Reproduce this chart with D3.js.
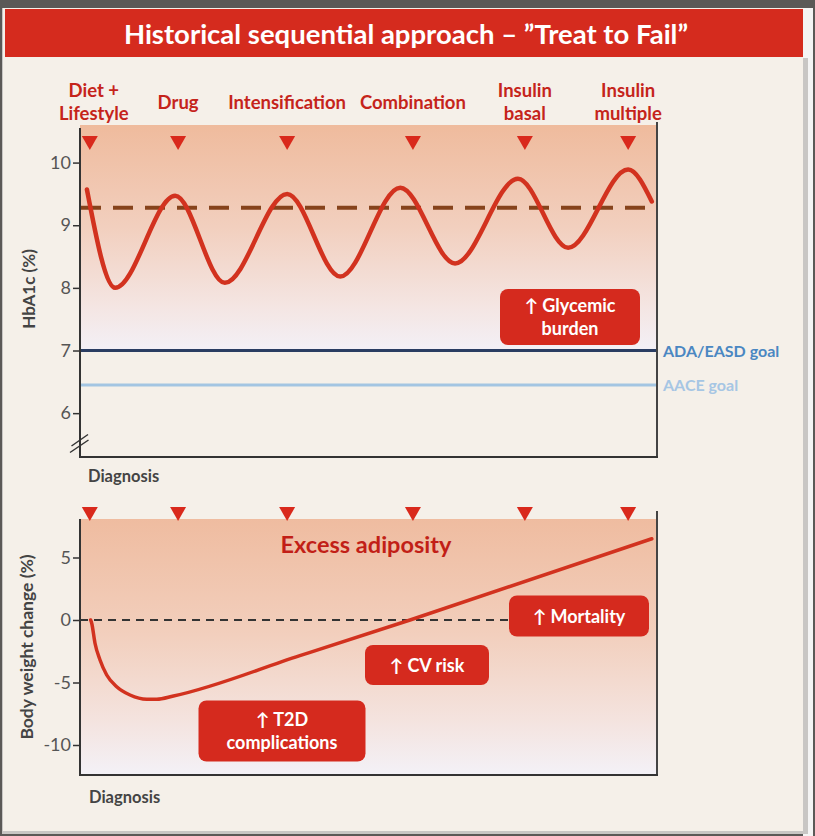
<!DOCTYPE html>
<html><head><meta charset="utf-8">
<script src="https://cdn.jsdelivr.net/npm/d3@7"></script>
<style>html,body{margin:0;padding:0;background:#5b5957;}svg{display:block;}</style>
</head><body>
<svg id="c" width="815" height="836"></svg>
<script>
// ---------- data ----------
const title = "Historical sequential approach – ”Treat to Fail”";
const stages = [["Diet +", "Lifestyle"], ["Drug"], ["Intensification"], ["Combination"], ["Insulin", "basal"], ["Insulin", "multiple"]];
const stageX = [1.7, 17.0, 35.9, 57.7, 77.1, 95.0];

const hba1cX = [1.2, 6.1, 16.5, 25.1, 35.9, 45.1, 55.5, 65.0, 75.9, 84.6, 95.0, 99.1];
const hba1cY = [9.57, 8.00, 9.47, 8.08, 9.50, 8.18, 9.60, 8.39, 9.74, 8.64, 9.89, 9.38];
const hba1cAverage = 9.28;
const hba1cTicks = [6, 7, 8, 9, 10];
const goalNames = ["ADA/EASD goal", "AACE goal"];
const goalValues = [7, 6.45];

const weightX = [1.85, 2.03, 2.6, 3.47, 4.63, 6.36, 8.67, 11.56, 13.3, 16.2, 38.1, 57.2, 99.1];
const weightY = [0, -0.26, -1.86, -3.2, -4.4, -5.34, -6.0, -6.34, -6.34, -6.08, -2.85, 0.0, 6.5];
const weightTicks = [-10, -5, 0, 5];

// ---------- setup ----------
const svg = d3.select("#c");
const FONT = "Lato, 'Open Sans', sans-serif";
const RED = "#d52b1e";
const DARKRED = "#c5241b";

// frame / page
svg.append("rect").attr("x",0).attr("y",0).attr("width",815).attr("height",836).attr("fill","#5b5957");
svg.append("rect").attr("x",803).attr("y",8).attr("width",10).attr("height",828).attr("fill","#f4f4f4");
svg.append("rect").attr("x",803).attr("y",58).attr("width",5).attr("height",776).attr("fill","#c8c6c4");
svg.append("rect").attr("x",2).attr("y",8).attr("width",801).attr("height",826).attr("fill","#c8c6c4");
svg.append("rect").attr("x",3).attr("y",8).attr("width",800).attr("height",823).attr("fill","#f5f0e9");

// title bar
svg.append("rect").attr("x",5).attr("y",9).attr("width",798).attr("height",48).attr("fill",RED);
svg.append("text").attr("x",406).attr("y",44).attr("text-anchor","middle")
  .attr("font-family",FONT).attr("font-weight","bold").attr("font-size",27.5).attr("fill","#fff")
  .text(title);

const x = d3.scaleLinear().domain([0,100]).range([80,657]);
const yTop = d3.scaleLinear().domain([5.3,10.6]).range([457,125]);
const yBot = d3.scaleLinear().domain([-12.4,8.08]).range([775,519]);

const defs = svg.append("defs");
function grad(id, stops){
  const g = defs.append("linearGradient").attr("id",id).attr("x1",0).attr("y1",0).attr("x2",0).attr("y2",1);
  stops.forEach(s=>g.append("stop").attr("offset",s[0]).attr("stop-color",s[1]));
}
grad("gTop", [[0,"#efbb9d"],[0.45,"#f2cfbe"],[0.8,"#f4e5e2"],[1,"#f3f0f6"]]);
grad("gBot", [[0,"#efbca0"],[0.45,"#f2cfbd"],[0.8,"#f4e4e0"],[1,"#f3f1f7"]]);

// ---------- top chart ----------
const gTop = svg.append("g");
gTop.append("rect").attr("x",x(0)).attr("y",yTop(10.6)).attr("width",x(100)-x(0)).attr("height",yTop(7)-yTop(10.6)).attr("fill","url(#gTop)");

// stage labels
stages.forEach((lines,i)=>{
  const t = gTop.append("text").attr("text-anchor","middle").attr("font-family",FONT).attr("font-weight","bold")
    .attr("font-size",18.5).attr("fill",DARKRED);
  const baseY = lines.length===2 ? 97 : 109;
  lines.forEach((ln,j)=>t.append("tspan").attr("x",x(stageX[i]) + (i===0?4:0)).attr("y",baseY+j*23).text(ln));
});

function triangles(g, yTopPx){
  g.selectAll(null).data(stageX).enter().append("path")
    .attr("d", d=>`M${x(d)-8},${yTopPx} L${x(d)+8},${yTopPx} L${x(d)},${yTopPx+14} Z`)
    .attr("fill","#d9291c");
}
triangles(gTop, 136);

// goal lines
const goalColors = ["#2a3d62","#a3c5e2"];
const goalTextColors = ["#4a87c2","#a6c6e4"];
goalValues.forEach((v,i)=>{
  gTop.append("line").attr("x1",x(0)).attr("x2",x(100)).attr("y1",yTop(v)).attr("y2",yTop(v))
    .attr("stroke",goalColors[i]).attr("stroke-width",3);
  gTop.append("text").attr("x",x(100)+6).attr("y",yTop(v)+6).attr("font-family",FONT).attr("font-weight","bold")
    .attr("font-size",16).attr("fill",goalTextColors[i]).text(goalNames[i]);
});

// average dashed
gTop.append("line").attr("x1",x(0)+1).attr("x2",x(100)-3).attr("y1",yTop(hba1cAverage)).attr("y2",yTop(hba1cAverage))
  .attr("stroke","#86431c").attr("stroke-width",4).attr("stroke-dasharray","20,12");

// HbA1c curve
const hLine = d3.line().x(d=>x(d[0])).y(d=>yTop(d[1])).curve(d3.curveMonotoneX);
gTop.append("path").datum(hba1cX.map((d,i)=>[d,hba1cY[i]])).attr("d",hLine)
  .attr("fill","none").attr("stroke","#d2321f").attr("stroke-width",4.5).attr("stroke-linecap","round");

// box
function box(g, cx, cy, w, h, lines){
  g.append("rect").attr("x",cx-w/2).attr("y",cy-h/2).attr("width",w).attr("height",h).attr("rx",8)
    .attr("fill","#d52a1e");
  const t = g.append("text").attr("text-anchor","middle").attr("font-family",FONT).attr("font-weight","bold")
    .attr("font-size",18).attr("fill","#fff");
  const n = lines.length;
  lines.forEach((ln,j)=>t.append("tspan").attr("x",cx).attr("y",cy+6.5+(j-(n-1)/2)*23).text(ln));
}
box(gTop, 570, 317, 140, 56, ["↑ Glycemic", "burden"]);

// axes
function styleAxis(g){
  g.select(".domain").remove();
  g.selectAll(".tick line").attr("stroke","#333").attr("stroke-width",1.5);
  g.selectAll(".tick text").attr("font-family",FONT).attr("font-size",18).attr("fill","#555");
}
const axT = gTop.append("g").attr("transform",`translate(${x(0)},0)`)
  .call(d3.axisLeft(yTop).tickValues(hba1cTicks).tickSize(7).tickPadding(2).tickFormat(d=>String(d)));
styleAxis(axT);
gTop.append("line").attr("x1",x(0)).attr("x2",x(0)).attr("y1",128).attr("y2",yTop(5.3)).attr("stroke","#333").attr("stroke-width",2);
gTop.append("line").attr("x1",x(100)).attr("x2",x(100)).attr("y1",122).attr("y2",yTop(5.3)).attr("stroke","#444").attr("stroke-width",2);
gTop.append("line").attr("x1",x(0)-1).attr("x2",x(100)+1).attr("y1",yTop(5.3)).attr("y2",yTop(5.3)).attr("stroke","#333").attr("stroke-width",2);
// axis break marks
gTop.append("path").attr("d","M71.5,446 L88,434.5 M70,452.5 L88.5,440").attr("stroke","#333").attr("stroke-width",1.5).attr("fill","none");

gTop.append("text").attr("transform",`translate(34.5,${289}) rotate(-90)`).attr("text-anchor","middle")
  .attr("font-family",FONT).attr("font-weight","bold").attr("font-size",17).attr("fill","#444").text("HbA1c (%)");
gTop.append("text").attr("x",88).attr("y",482).attr("font-family",FONT).attr("font-weight","bold")
  .attr("font-size",16.5).attr("fill","#444").text("Diagnosis");

// ---------- bottom chart ----------
const gBot = svg.append("g");
gBot.append("rect").attr("x",x(0)).attr("y",yBot(8.08)).attr("width",x(100)-x(0)).attr("height",yBot(-12.4)-yBot(8.08)).attr("fill","url(#gBot)");
triangles(gBot, 507);

gBot.append("text").attr("x",366).attr("y",553).attr("text-anchor","middle").attr("font-family",FONT)
  .attr("font-weight","bold").attr("font-size",23.5).attr("fill","#c21f17").text("Excess adiposity");

gBot.append("line").attr("x1",x(0)).attr("x2",x(99.2)).attr("y1",yBot(0)).attr("y2",yBot(0))
  .attr("stroke","#333").attr("stroke-width",2).attr("stroke-dasharray","8,6");

box(gBot, 579, 616, 140, 41, ["↑ Mortality"]);
box(gBot, 427, 665, 124, 40, ["↑ CV risk"]);
box(gBot, 282, 731, 167, 61, ["↑ T2D", "complications"]);

const wLine = d3.line().x(d=>x(d[0])).y(d=>yBot(d[1])).curve(d3.curveMonotoneX);
gBot.append("path").datum(weightX.map((d,i)=>[d,weightY[i]])).attr("d",wLine)
  .attr("fill","none").attr("stroke","#d2321f").attr("stroke-width",3.5).attr("stroke-linecap","round");

const axB = gBot.append("g").attr("transform",`translate(${x(0)},0)`)
  .call(d3.axisLeft(yBot).tickValues(weightTicks).tickSize(7).tickPadding(2).tickFormat(d=>String(d)));
styleAxis(axB);
gBot.append("line").attr("x1",x(0)).attr("x2",x(0)).attr("y1",519).attr("y2",yBot(-12.4)).attr("stroke","#333").attr("stroke-width",2);
gBot.append("line").attr("x1",x(100)).attr("x2",x(100)).attr("y1",511).attr("y2",yBot(-12.4)).attr("stroke","#444").attr("stroke-width",2);
gBot.append("line").attr("x1",x(0)-1).attr("x2",x(100)+1).attr("y1",yBot(-12.4)).attr("y2",yBot(-12.4)).attr("stroke","#333").attr("stroke-width",2);

gBot.append("text").attr("transform",`translate(33,${647}) rotate(-90)`).attr("text-anchor","middle")
  .attr("font-family",FONT).attr("font-weight","bold").attr("font-size",17.5).attr("fill","#444").text("Body weight change (%)");
gBot.append("text").attr("x",89).attr("y",803).attr("font-family",FONT).attr("font-weight","bold")
  .attr("font-size",16.5).attr("fill","#444").text("Diagnosis");
</script>
</body></html>
